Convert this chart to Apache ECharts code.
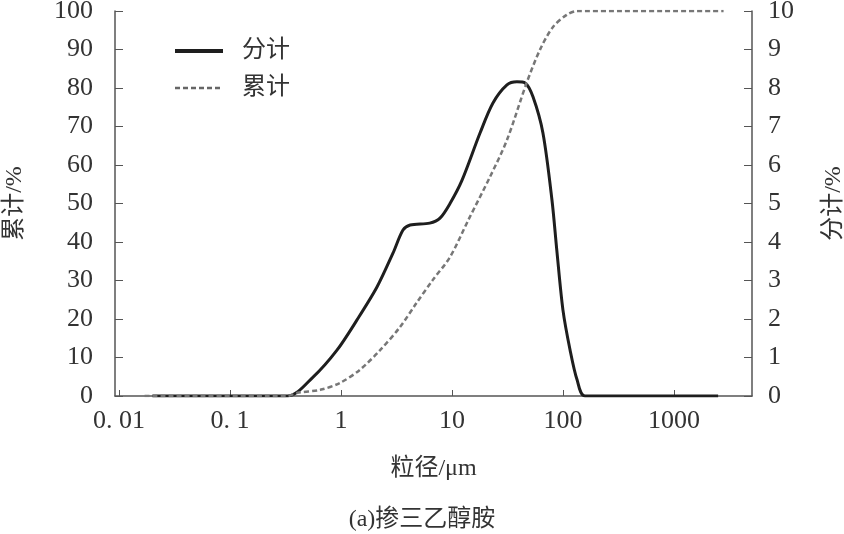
<!DOCTYPE html>
<html>
<head>
<meta charset="utf-8">
<script src="https://cdn.jsdelivr.net/npm/echarts@6/dist/echarts.min.js"></script>
<style>html,body{margin:0;padding:0;background:#fff;}#c{width:844px;height:534px;}</style>
</head>
<body>
<div id="c"></div>
<script>
// 分计 (differential, right axis, %)
const fenSize = [0.02, 0.33, 0.56, 0.92, 1.39, 2.11, 2.94, 3.62, 4.2, 6.3, 7.8, 9.6, 12.3, 17.9, 23.4, 31.3, 38.5, 45.6, 53.7, 66, 79.6, 88, 100, 116, 134, 158, 2500];
const fenVal  = [0, 0, 0.49, 1.19, 1.97, 2.83, 3.71, 4.31, 4.44, 4.49, 4.62, 5.0, 5.6, 6.83, 7.61, 8.08, 8.16, 8.13, 7.77, 6.83, 5.09, 3.79, 2.23, 1.19, 0.42, 0, 0];
// 累计 (cumulative, left axis, %)
const leiSize = [0.017, 0.33, 0.4, 0.65, 0.98, 1.48, 2.25, 3.4, 4.8, 6.7, 9.6, 14.2, 22, 31.3, 47, 62, 81, 108, 134, 2800];
const leiVal  = [0, 0, 0.8, 1.6, 3.4, 6.8, 11.9, 17.9, 24.2, 30.1, 36.1, 46, 56.9, 66.5, 81.3, 89.9, 95.8, 99, 100, 100];
// x tick labels
const xTickValues = [0.01, 0.1, 1, 10, 100, 1000];
const xTickLabels = ['0. 01', '0. 1', '1', '10', '100', '1000'];
const seriesNames = ['分计', '累计'];

const FONT = "'Liberation Serif','Noto Sans CJK SC',serif";
const AX = '#555';
const TX = '#333';

function xLabel(v) {
  for (let i = 0; i < xTickValues.length; i++) {
    if (Math.abs(Math.log10(v) - Math.log10(xTickValues[i])) < 1e-6) return xTickLabels[i];
  }
  return '';
}

const chart = echarts.init(document.getElementById('c'), null, {renderer: 'canvas'});
chart.setOption({
  animation: false,
  backgroundColor: '#fff',
  grid: {left: 115, right: 92, top: 11, bottom: 138, outerBoundsMode: 'none', containLabel: false},
  title: {
    text: '(a)掺三乙醇胺', left: 'center', top: 503,
    textStyle: {fontFamily: FONT, fontSize: 24, fontWeight: 'normal', color: TX}
  },
  legend: {
    orient: 'vertical', left: 168, top: 34, itemGap: 13,
    itemWidth: 48, itemHeight: 14,
    itemStyle: {opacity: 0},
    textStyle: {fontFamily: FONT, fontSize: 24, color: TX, padding: [0, 0, 0, 14]},
    data: [
      {name: seriesNames[0], lineStyle: {width: 4, color: '#1e1e1e'}},
      {name: seriesNames[1], lineStyle: {width: 2.5, color: '#666', type: [5, 3]}}
    ]
  },
  xAxis: {
    type: 'log', min: 0.0092, max: 5050,
    name: '粒径/μm', nameLocation: 'middle', nameGap: 61,
    nameTextStyle: {fontFamily: FONT, fontSize: 24, color: TX},
    axisLine: {lineStyle: {color: AX, width: 1.5}},
    axisTick: {inside: true, length: 6, lineStyle: {color: AX}},
    axisLabel: {fontFamily: FONT, fontSize: 26, color: TX, margin: 12,
      showMinLabel: false, showMaxLabel: false, formatter: xLabel},
    splitLine: {show: false}
  },
  yAxis: [{
    type: 'value', min: 0, max: 100, interval: 10, position: 'left',
    name: '累计/%', nameLocation: 'middle', nameGap: 88, nameRotate: 90,
    nameTextStyle: {fontFamily: FONT, fontSize: 24, color: TX},
    axisLine: {show: true, lineStyle: {color: AX, width: 1.5}},
    axisTick: {show: true, inside: true, length: 8, lineStyle: {color: AX}},
    axisLabel: {fontFamily: FONT, fontSize: 26, color: TX, margin: 22},
    splitLine: {show: false}
  }, {
    type: 'value', min: 0, max: 10, interval: 1, position: 'right',
    name: '分计/%', nameLocation: 'middle', nameGap: 70, nameRotate: 90,
    nameTextStyle: {fontFamily: FONT, fontSize: 24, color: TX},
    axisLine: {show: true, lineStyle: {color: AX, width: 1.5}},
    axisTick: {show: true, inside: true, length: 8, lineStyle: {color: AX}},
    axisLabel: {fontFamily: FONT, fontSize: 26, color: TX, margin: 16},
    splitLine: {show: false}
  }],
  series: [{
    name: seriesNames[0], type: 'line', yAxisIndex: 1, smooth: 0.3,
    symbol: 'none',
    lineStyle: {color: '#1e1e1e', width: 3},
    itemStyle: {color: '#1e1e1e'},
    data: fenSize.map((x, i) => [x, fenVal[i]])
  }, {
    name: seriesNames[1], type: 'line', yAxisIndex: 0, smooth: 0.3,
    symbol: 'none',
    lineStyle: {color: '#777', width: 2.5, type: [5, 3]},
    itemStyle: {color: '#777'},
    data: leiSize.map((x, i) => [x, leiVal[i]])
  }]
});
</script>
</body>
</html>
